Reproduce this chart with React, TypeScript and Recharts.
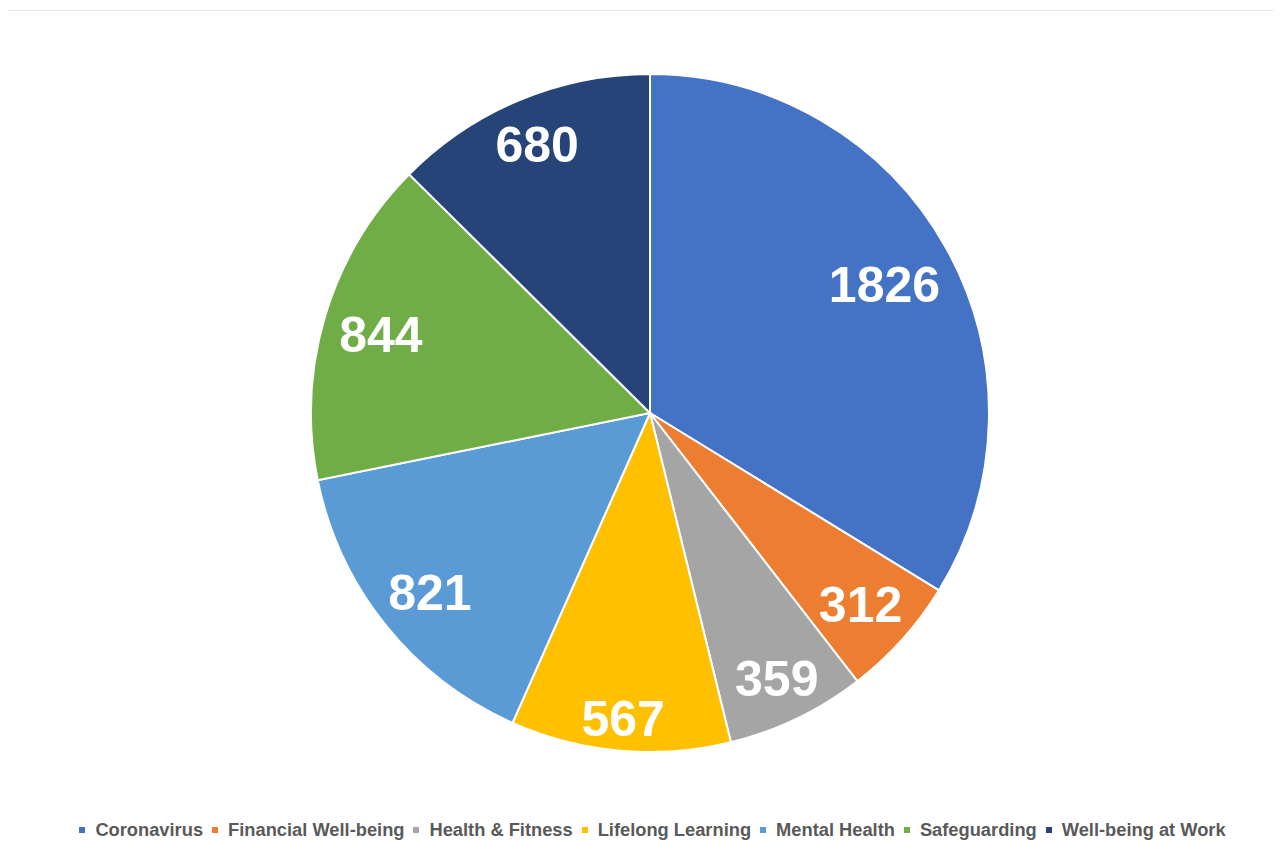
import { PieChart, Pie, Cell, Legend } from "recharts"

const topics = [
  "Coronavirus",
  "Financial Well-being",
  "Health & Fitness",
  "Lifelong Learning",
  "Mental Health",
  "Safeguarding",
  "Well-being at Work",
]
const counts = [1826, 312, 359, 567, 821, 844, 680]
const colors = ["#4472C4", "#ED7D31", "#A5A5A5", "#FFC000", "#5B9BD5", "#70AD47", "#264478"]

const data = topics.map((name, i) => ({ name, value: counts[i] }))

const RAD = Math.PI / 180
const FONT = 50
const FAMILY = "'Liberation Sans', Arial, sans-serif"

// excel-style "inside end" label: keep the text box just inside the rim
function renderLabel(props: any) {
  const { cx, cy, midAngle, outerRadius, value } = props
  const ux = Math.cos(-midAngle * RAD)
  const uy = Math.sin(-midAngle * RAD)
  const halfW = (String(value).length * FONT * 0.556) / 2
  const halfH = FONT * 0.36
  const r = outerRadius - 13 - (halfW * Math.abs(ux) + halfH * Math.abs(uy))
  const x = cx + r * ux
  const y = cy + r * uy + 3
  return (
    <text
      x={x}
      y={y}
      fill="#fff"
      textAnchor="middle"
      dominantBaseline="central"
      fontFamily={FAMILY}
      fontWeight="bold"
      fontSize={FONT}
    >
      {value}
    </text>
  )
}

function LegendRow(props: any) {
  const items = props.payload || []
  return (
    <div
      style={{
        display: "flex",
        justifyContent: "center",
        alignItems: "center",
        fontFamily: FAMILY,
        fontWeight: "bold",
        fontSize: 18.3,
        color: "#595959",
        whiteSpace: "nowrap",
      }}
    >
      {items.map((it: any) => (
        <span key={it.value} style={{ display: "flex", alignItems: "center", marginRight: 9 }}>
          <span style={{ width: 6, height: 6, background: it.color, marginRight: 10 }} />
          {it.value}
        </span>
      ))}
    </div>
  )
}

export default function App() {
  return (
    <div style={{ position: "relative", width: 1274, height: 833 }}>
      <div
        style={{
          position: "absolute",
          left: -1,
          top: 2,
          right: 0,
          bottom: 0,
          borderTop: "1px solid #e8e8e8",
          borderLeft: "1px solid #e8e8e8",
          pointerEvents: "none",
        }}
      />
      <PieChart width={1274} height={833}>
        <Pie
          data={data}
          dataKey="value"
          nameKey="name"
          cx={637}
          cy={400}
          outerRadius={339}
          startAngle={90}
          endAngle={-270}
          stroke="#fff"
          strokeWidth={2}
          label={renderLabel}
          labelLine={false}
          isAnimationActive={false}
        >
          {data.map((d, i) => (
            <Cell key={d.name} fill={colors[i]} />
          ))}
        </Pie>
        <Legend
          verticalAlign="bottom"
          content={LegendRow}
          wrapperStyle={{ bottom: 0, left: 4, width: 1290 }}
        />
      </PieChart>
    </div>
  )
}
